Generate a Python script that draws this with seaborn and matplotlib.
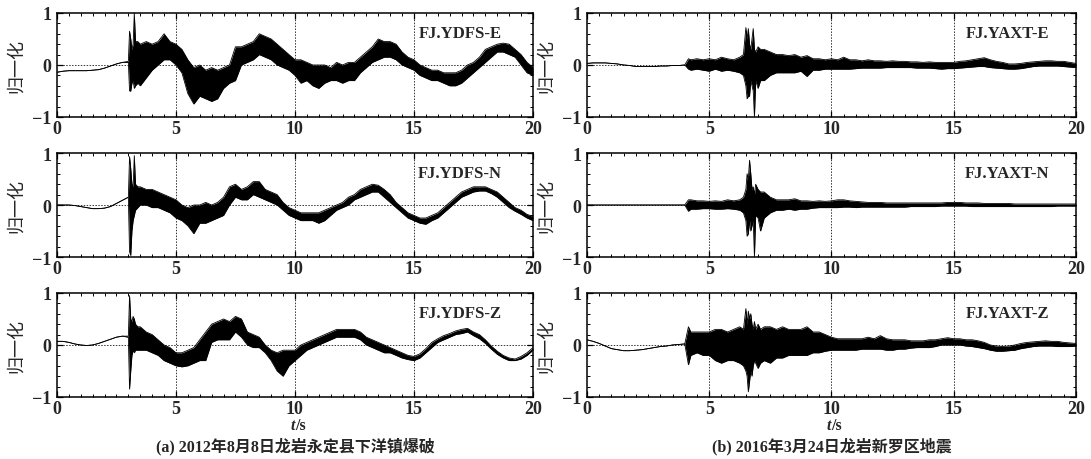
import numpy as np
import matplotlib
matplotlib.use("Agg")
import matplotlib.pyplot as plt
from matplotlib.ticker import MultipleLocator
import seaborn as sns

# ---------------- data (min / max envelope per time sample) -------------
t_left = np.r_[np.arange(0, 3.0, 0.25), [3.0, 3.05, 3.1, 3.15, 3.2, 3.25, 3.3, 3.4],
               np.arange(3.5, 20.001, 0.25)]
t_right = np.r_[np.arange(0, 4.001, 0.25), [4.15], np.arange(4.25, 6.26, 0.25),
                [6.4, 6.5, 6.55, 6.6, 6.65, 6.7, 6.75, 6.8, 6.85, 6.9, 7.0, 7.1],
                np.arange(7.25, 20.001, 0.25)]

# --- (a) FJ.YDFS ---
ydfs_e_pre = [-0.14, -0.12, -0.11, -0.11, -0.11, -0.11, -0.1, -0.09, -0.06, -0.02, 0.02, 0.05]
ydfs_e_hi = ydfs_e_pre + [0.07, 0.65, 0.5, 0.3, 0.4, 1.0, 0.45, 0.45,
    0.4, 0.45, 0.4, 0.45, 0.6, 0.45, 0.4, 0.3, 0.1, -0.05, 0.0, -0.1, -0.05, -0.1, -0.05, 0.0,
    0.35, 0.35, 0.4, 0.45, 0.6, 0.55, 0.5, 0.4, 0.3, 0.2, 0.1, 0.1, 0.05, 0.0, 0.0, 0.0,
    -0.05, 0.05, 0.0, 0.05, 0.05, 0.15, 0.25, 0.35, 0.5, 0.45, 0.45, 0.4, 0.25, 0.15, 0.1, 0.0,
    -0.05, -0.1, -0.1, -0.15, -0.15, -0.15, -0.1, 0.0, 0.05, 0.15, 0.3, 0.35, 0.4, 0.42, 0.4,
    0.3, 0.2, 0.05, -0.05]
ydfs_e_lo = ydfs_e_pre + [0.05, -0.5, -0.5, -0.35, -0.3, -0.45, -0.4, -0.35,
    -0.4, -0.25, -0.1, 0.0, 0.1, 0.1, 0.0, -0.15, -0.55, -0.75, -0.6, -0.65, -0.7, -0.65, -0.45, -0.35,
    -0.3, 0.0, 0.05, 0.1, 0.2, 0.15, 0.1, 0.0, -0.05, -0.1, -0.2, -0.35, -0.3, -0.4, -0.45, -0.35,
    -0.3, -0.3, -0.35, -0.3, -0.3, -0.15, -0.05, 0.05, 0.1, 0.15, 0.15, 0.1, 0.0, -0.05, -0.1, -0.2,
    -0.25, -0.3, -0.3, -0.35, -0.4, -0.4, -0.35, -0.25, -0.15, -0.05, 0.05, 0.15, 0.25, 0.25, 0.2,
    0.15, 0.0, -0.15, -0.2]

ydfs_n_pre = [0.0, 0.0, 0.0, -0.01, -0.03, -0.05, -0.07, -0.07, -0.06, -0.03, 0.03, 0.09]
ydfs_n_hi = ydfs_n_pre + [0.15, 0.93, 0.7, 0.4, 0.35, 0.95, 0.4, 0.35,
    0.35, 0.3, 0.3, 0.25, 0.2, 0.15, 0.1, 0.0, -0.05, 0.0, 0.0, 0.05, 0.0, 0.05, 0.15, 0.35,
    0.4, 0.3, 0.35, 0.45, 0.45, 0.3, 0.25, 0.2, 0.05, -0.05, -0.1, -0.15, -0.15, -0.15, -0.15, -0.1,
    -0.05, 0.0, 0.05, 0.15, 0.2, 0.3, 0.35, 0.4, 0.38, 0.3, 0.2, 0.05, -0.05, -0.15, -0.2, -0.25,
    -0.25, -0.2, -0.15, -0.05, 0.05, 0.15, 0.25, 0.3, 0.35, 0.35, 0.35, 0.3, 0.25, 0.15, 0.05,
    -0.05, -0.1, -0.18, -0.22]
ydfs_n_lo = ydfs_n_pre + [0.15, -0.9, -0.97, -0.5, -0.3, -0.2, -0.1, -0.05,
    0.0, 0.0, -0.05, -0.05, -0.1, -0.15, -0.25, -0.3, -0.4, -0.55, -0.35, -0.35, -0.3, -0.25, -0.2, 0.0,
    0.15, 0.1, 0.1, 0.2, 0.15, 0.1, 0.05, 0.0, -0.1, -0.2, -0.25, -0.3, -0.3, -0.3, -0.35, -0.3,
    -0.2, -0.1, -0.05, 0.0, 0.1, 0.15, 0.2, 0.25, 0.25, 0.15, 0.05, -0.05, -0.15, -0.25, -0.3, -0.35,
    -0.37, -0.3, -0.25, -0.15, -0.05, 0.05, 0.15, 0.2, 0.25, 0.27, 0.27, 0.22, 0.15, 0.05, -0.05,
    -0.12, -0.18, -0.25, -0.3]

ydfs_z_pre = [0.07, 0.07, 0.05, 0.02, 0.0, -0.01, 0.0, 0.03, 0.07, 0.11, 0.15, 0.17]
ydfs_z_hi = ydfs_z_pre + [0.17, 0.95, 0.5, 0.45, 0.55, 0.5, 0.4, 0.35,
    0.35, 0.25, 0.2, 0.1, 0.0, -0.05, -0.15, -0.15, -0.1, -0.05, 0.1, 0.25, 0.4, 0.45, 0.5, 0.45,
    0.55, 0.5, 0.25, 0.2, 0.15, 0.0, -0.1, -0.15, -0.1, -0.1, -0.1, 0.0, 0.05, 0.1, 0.15, 0.2,
    0.25, 0.3, 0.3, 0.3, 0.3, 0.25, 0.15, 0.1, 0.05, 0.0, -0.05, -0.1, -0.15, -0.2, -0.22, -0.17,
    -0.07, 0.05, 0.12, 0.18, 0.22, 0.27, 0.3, 0.32, 0.25, 0.2, 0.1, -0.02, -0.12, -0.2, -0.25,
    -0.27, -0.22, -0.15, -0.05]
ydfs_z_lo = ydfs_z_pre + [0.15, -0.85, -0.5, -0.2, -0.1, -0.15, -0.1, -0.1,
    -0.1, -0.1, -0.15, -0.2, -0.3, -0.35, -0.4, -0.42, -0.4, -0.35, -0.3, -0.3, 0.05, 0.1, 0.1, 0.1,
    0.25, 0.15, 0.0, -0.05, -0.05, -0.15, -0.3, -0.5, -0.6, -0.4, -0.3, -0.2, -0.1, -0.05, 0.0, 0.05,
    0.1, 0.15, 0.15, 0.15, 0.15, 0.1, 0.0, -0.05, -0.1, -0.15, -0.15, -0.2, -0.25, -0.28, -0.3, -0.25,
    -0.15, -0.05, 0.05, 0.1, 0.15, 0.2, 0.22, 0.25, 0.18, 0.12, 0.03, -0.08, -0.18, -0.25, -0.3,
    -0.3, -0.27, -0.2, -0.1]

# --- (b) FJ.YAXT ---
yaxt_e_pre = [0.03, 0.04, 0.04, 0.04, 0.03, 0.02, 0.0, -0.01, -0.03, -0.03, -0.03, -0.03,
              -0.02, -0.02, -0.01, -0.01, 0.0]
yaxt_e_hi = yaxt_e_pre + [0.12, 0.1, 0.12, 0.1, 0.12, 0.1, 0.15, 0.12, 0.1, 0.15,
    0.2, 0.72, 0.5, 0.7, 0.4, 0.3, 0.5, 0.7, 0.3, 0.25, 0.35, 0.3,
    0.3, 0.25, 0.2, 0.2, 0.18, 0.2, 0.15, 0.18, 0.12, 0.12, 0.1, 0.12, 0.1, 0.15, 0.1, 0.1,
    0.08, 0.1, 0.08, 0.08, 0.07, 0.08, 0.07, 0.07, 0.06, 0.06, 0.05, 0.06, 0.05, 0.05, 0.05, 0.05,
    0.07, 0.08, 0.1, 0.12, 0.14, 0.1, 0.07, 0.05, 0.02, 0.02, 0.03, 0.05, 0.06, 0.07, 0.08, 0.08,
    0.07, 0.07, 0.05, 0.03]
yaxt_e_lo = yaxt_e_pre + [-0.08, -0.1, -0.08, -0.1, -0.12, -0.08, -0.12, -0.1, -0.12, -0.15,
    -0.2, -0.4, -0.65, -0.6, -0.6, -0.3, -0.4, -0.5, -1.0, -0.3, -0.45, -0.3,
    -0.3, -0.2, -0.15, -0.15, -0.15, -0.15, -0.12, -0.22, -0.1, -0.1, -0.08, -0.08, -0.08, -0.08,
    -0.08, -0.07, -0.06, -0.06, -0.06, -0.06, -0.05, -0.05, -0.05, -0.05, -0.05, -0.06, -0.06,
    -0.06, -0.07, -0.08, -0.07, -0.07, -0.06, -0.05, -0.04, -0.03, -0.03, -0.05, -0.06, -0.07,
    -0.08, -0.08, -0.07, -0.05, -0.03, -0.02, -0.02, -0.02, -0.02, -0.03, -0.04, -0.05]

yaxt_n_pre = [0.0] * 17
yaxt_n_hi = yaxt_n_pre + [0.1, 0.1, 0.08, 0.08, 0.07, 0.08, 0.07, 0.1, 0.08, 0.1,
    0.15, 0.3, 0.6, 0.5, 0.86, 0.6, 0.3, 0.35, 0.2, 0.4, 0.3, 0.25,
    0.25, 0.15, 0.1, 0.1, 0.1, 0.12, 0.08, 0.08, 0.07, 0.08, 0.07, 0.08, 0.1, 0.1, 0.08, 0.07,
    0.06, 0.05, 0.05, 0.05, 0.04, 0.04, 0.04, 0.04, 0.04, 0.04, 0.04, 0.04, 0.04, 0.04, 0.05, 0.05,
    0.05, 0.04, 0.04, 0.04, 0.03, 0.03, 0.03, 0.03, 0.03, 0.02, 0.02, 0.02, 0.02, 0.02, 0.02, 0.02,
    0.02, 0.02, 0.02, 0.02]
yaxt_n_lo = yaxt_n_pre + [-0.12, -0.08, -0.08, -0.07, -0.07, -0.08, -0.08, -0.07, -0.08, -0.1,
    -0.15, -0.3, -0.6, -0.55, -0.3, -0.5, -0.4, -0.3, -1.0, -0.2, -0.25, -0.5,
    -0.25, -0.15, -0.1, -0.1, -0.08, -0.1, -0.08, -0.08, -0.06, -0.05, -0.05, -0.05, -0.05, -0.04,
    -0.04, -0.05, -0.04, -0.04, -0.04, -0.04, -0.04, -0.04, -0.04, -0.04, -0.03, -0.03, -0.03,
    -0.03, -0.03, -0.02, -0.02, -0.02, -0.02, -0.02, -0.03, -0.03, -0.03, -0.03, -0.03, -0.03,
    -0.03, -0.03, -0.03, -0.03, -0.03, -0.03, -0.03, -0.03, -0.02, -0.02, -0.02, -0.02]

yaxt_z_pre = [0.1, 0.07, 0.03, -0.02, -0.07, -0.09, -0.11, -0.11, -0.1, -0.09, -0.07, -0.05,
              -0.03, -0.02, 0.0, 0.01, 0.02]
yaxt_z_hi = yaxt_z_pre + [0.35, 0.25, 0.25, 0.25, 0.25, 0.3, 0.3, 0.25, 0.3, 0.35,
    0.3, 0.7, 0.4, 0.65, 0.5, 0.6, 0.4, 0.3, 0.45, 0.3, 0.4, 0.3,
    0.35, 0.35, 0.3, 0.35, 0.3, 0.3, 0.3, 0.35, 0.25, 0.25, 0.2, 0.15, 0.12, 0.12, 0.12, 0.12,
    0.12, 0.15, 0.12, 0.18, 0.12, 0.1, 0.1, 0.1, 0.08, 0.08, 0.08, 0.1, 0.1, 0.12, 0.14, 0.12,
    0.12, 0.1, 0.1, 0.08, 0.05, 0.0, -0.02, -0.03, -0.02, 0.0, 0.03, 0.05, 0.06, 0.07, 0.08, 0.07,
    0.07, 0.05, 0.04, 0.03]
yaxt_z_lo = yaxt_z_pre + [-0.38, -0.2, -0.15, -0.2, -0.2, -0.3, -0.35, -0.3, -0.3, -0.35,
    -0.4, -0.5, -0.6, -0.9, -0.7, -0.5, -0.6, -0.4, -0.3, -0.35, -0.45, -0.35,
    -0.3, -0.35, -0.25, -0.25, -0.2, -0.2, -0.2, -0.2, -0.15, -0.15, -0.12, -0.1, -0.1, -0.1,
    -0.1, -0.1, -0.08, -0.08, -0.08, -0.08, -0.1, -0.1, -0.08, -0.08, -0.06, -0.05, -0.05, -0.05,
    -0.03, 0.0, 0.0, 0.0, 0.0, -0.02, -0.03, -0.05, -0.07, -0.1, -0.12, -0.12, -0.11, -0.1, -0.07,
    -0.05, -0.03, -0.02, -0.02, -0.02, -0.03, -0.03, -0.03, -0.02]

station_labels = ["FJ.YDFS-E", "FJ.YDFS-N", "FJ.YDFS-Z", "FJ.YAXT-E", "FJ.YAXT-N", "FJ.YAXT-Z"]
captions = ["(a) 2012年8月8日龙岩永定县下洋镇爆破", "(b) 2016年3月24日龙岩新罗区地震"]
ylabel_text = "归一化"
x_ticks = [0, 5, 10, 15, 20]
y_ticks = [-1, 0, 1]

# ---------------- style ----------------
sns.set_theme(style="ticks")
plt.rcParams["font.family"] = ["Liberation Serif", "Noto Sans CJK SC", "DejaVu Sans"]
plt.rcParams["axes.linewidth"] = 1.1

fig = plt.figure(figsize=(10.91, 4.6), dpi=100)
col_x = [(0.0522, 0.4363), (0.5380, 0.4482)]
row_y = [0.7435, 0.4391, 0.1348]
row_h = 0.2261

traces = [
    (0, 0, t_left, ydfs_e_hi, ydfs_e_lo, station_labels[0]),
    (0, 1, t_left, ydfs_n_hi, ydfs_n_lo, station_labels[1]),
    (0, 2, t_left, ydfs_z_hi, ydfs_z_lo, station_labels[2]),
    (1, 0, t_right, yaxt_e_hi, yaxt_e_lo, station_labels[3]),
    (1, 1, t_right, yaxt_n_hi, yaxt_n_lo, station_labels[4]),
    (1, 2, t_right, yaxt_z_hi, yaxt_z_lo, station_labels[5]),
]

for col, row, t, hi, lo, lab in traces:
    x0, w = col_x[col]
    ax = fig.add_axes([x0, row_y[row], w, row_h])
    t = np.asarray(t, float)
    hi = np.asarray(hi, float)
    lo = np.asarray(lo, float)
    ax.fill_between(t, lo, hi, color="black", lw=0, zorder=2)
    sns.lineplot(x=t, y=hi, ax=ax, sort=False, estimator=None, color="black", lw=0.6, zorder=3)
    sns.lineplot(x=t, y=lo, ax=ax, sort=False, estimator=None, color="black", lw=0.6, zorder=3)
    ax.axhline(0, color="0.2", ls=(0, (1.5, 1.5)), lw=0.7, zorder=0)
    for gx in x_ticks[1:-1]:
        ax.axvline(gx, color="0.2", ls=(0, (1.5, 1.5)), lw=0.7, zorder=0)
    ax.set_xlim(0, 20)
    ax.set_ylim(-1, 1)
    ax.set_xticks(x_ticks)
    ax.set_yticks(y_ticks)
    ax.xaxis.set_minor_locator(MultipleLocator(0.5))
    ax.yaxis.set_minor_locator(MultipleLocator(0.2))
    ax.tick_params(which="both", direction="in", top=True, right=True, color="black")
    ax.tick_params(which="major", length=4, width=0.9, labelsize=13)
    ax.tick_params(axis="x", which="major", pad=2)
    ax.tick_params(axis="y", which="major", pad=4)
    ax.tick_params(which="minor", length=2.5, width=0.7)
    for tl in ax.get_xticklabels() + ax.get_yticklabels():
        tl.set_fontweight("bold")
    for s in ax.spines.values():
        s.set_color("black")
    ax.set_ylabel(ylabel_text, fontsize=13, labelpad=5,
                  family=["Noto Sans CJK SC", "DejaVu Sans"])
    ax.set_xlabel("")
    ax.text(0.935 if col == 0 else 0.945, 0.81, lab, transform=ax.transAxes,
            ha="right", va="center", fontsize=12, fontweight="bold", zorder=5)
    if row == 2:
        ax.text(0.5, -0.27, "t", transform=ax.transAxes, ha="right", va="center",
                fontsize=11.5, fontweight="bold", style="italic")
        ax.text(0.5, -0.27, "/s", transform=ax.transAxes, ha="left", va="center",
                fontsize=11.5, fontweight="bold")
        ax.text(0.5, -0.47, captions[col], transform=ax.transAxes, ha="center",
                va="center", fontsize=11.5, fontweight="bold",
                family=["Liberation Serif", "Noto Sans CJK SC"])

fig.savefig("out.png", dpi=100)
